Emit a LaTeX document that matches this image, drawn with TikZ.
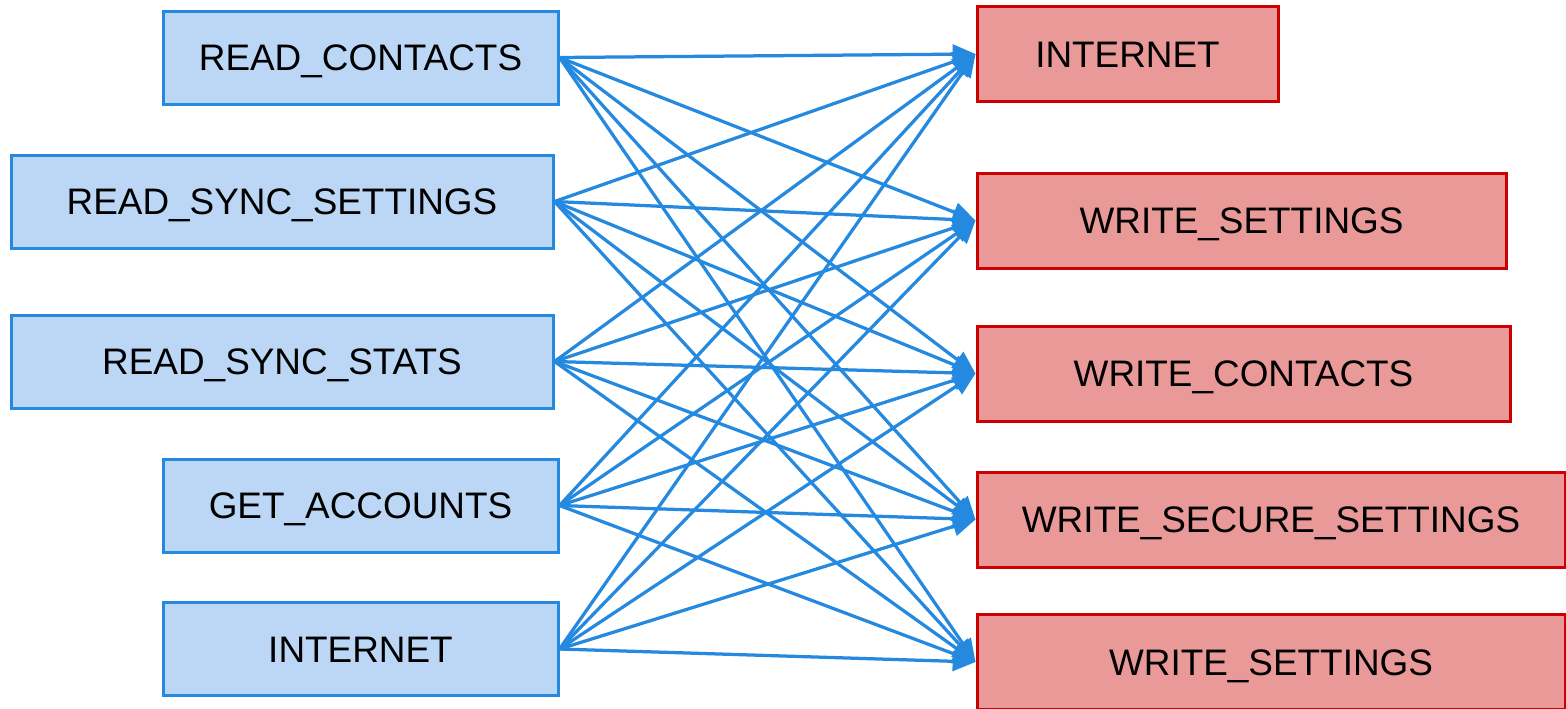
\documentclass[tikz,border=0pt]{standalone}
\usepackage{fontspec}
\setmainfont{Liberation Sans}
\usepackage{tikz}
\usetikzlibrary{arrows.meta,positioning}

\definecolor{srcfill}{HTML}{BBD7F5}
\definecolor{srcline}{HTML}{2589DF}
\definecolor{dstfill}{HTML}{EA9999}
\definecolor{dstline}{HTML}{CC0000}

\tikzset{
    permbox/.style={line width=0.06cm, inner sep=0pt, text height=15pt, text depth=0pt},
    srcbox/.style={permbox, draw=srcline, fill=srcfill, minimum height=1.86cm},
    dstbox/.style={permbox, draw=dstline, fill=dstfill, minimum height=1.9cm},
    conn/.style={srcline, line width=0.065cm, -{Triangle[length=13pt,width=11pt]}}
}

\begin{document}
\begin{tikzpicture}[font=\fontsize{21}{25}\selectfont]
    \useasboundingbox (0,0) rectangle (31.32,-14.16);

    % Requested permissions (left)
    \node[srcbox, minimum width=7.9cm]   (rc)  at (7.21, -1.15)  {READ\_CONTACTS};
    \node[srcbox, minimum width=10.84cm] (rss) at (5.64, -4.03)  {READ\_SYNC\_SETTINGS};
    \node[srcbox, minimum width=10.84cm] (rst) at (5.64, -7.23)  {READ\_SYNC\_STATS};
    \node[srcbox, minimum width=7.9cm]   (ga)  at (7.21, -10.11) {GET\_ACCOUNTS};
    \node[srcbox, minimum width=7.9cm]   (inl) at (7.21, -12.98) {INTERNET};

    % Target permissions (right)
    \node[dstbox, minimum width=6.02cm]  (inr) at (22.55, -1.08)  {INTERNET};
    \node[dstbox, minimum width=10.58cm] (ws1) at (24.83, -4.41)  {WRITE\_SETTINGS};
    \node[dstbox, minimum width=10.66cm] (wc)  at (24.87, -7.47)  {WRITE\_CONTACTS};
    \node[dstbox, minimum width=11.76cm] (wss) at (25.42, -10.39) {WRITE\_SECURE\_SETTINGS};
    \node[dstbox, minimum width=11.76cm] (ws2) at (25.42, -13.24) {WRITE\_SETTINGS};

    % Every source to every target
    \foreach \a in {rc,rss,rst,ga,inl}
        \foreach \b in {inr,ws1,wc,wss,ws2}
            \draw[conn] (\a.east) -- (\b.west);
\end{tikzpicture}
\end{document}
